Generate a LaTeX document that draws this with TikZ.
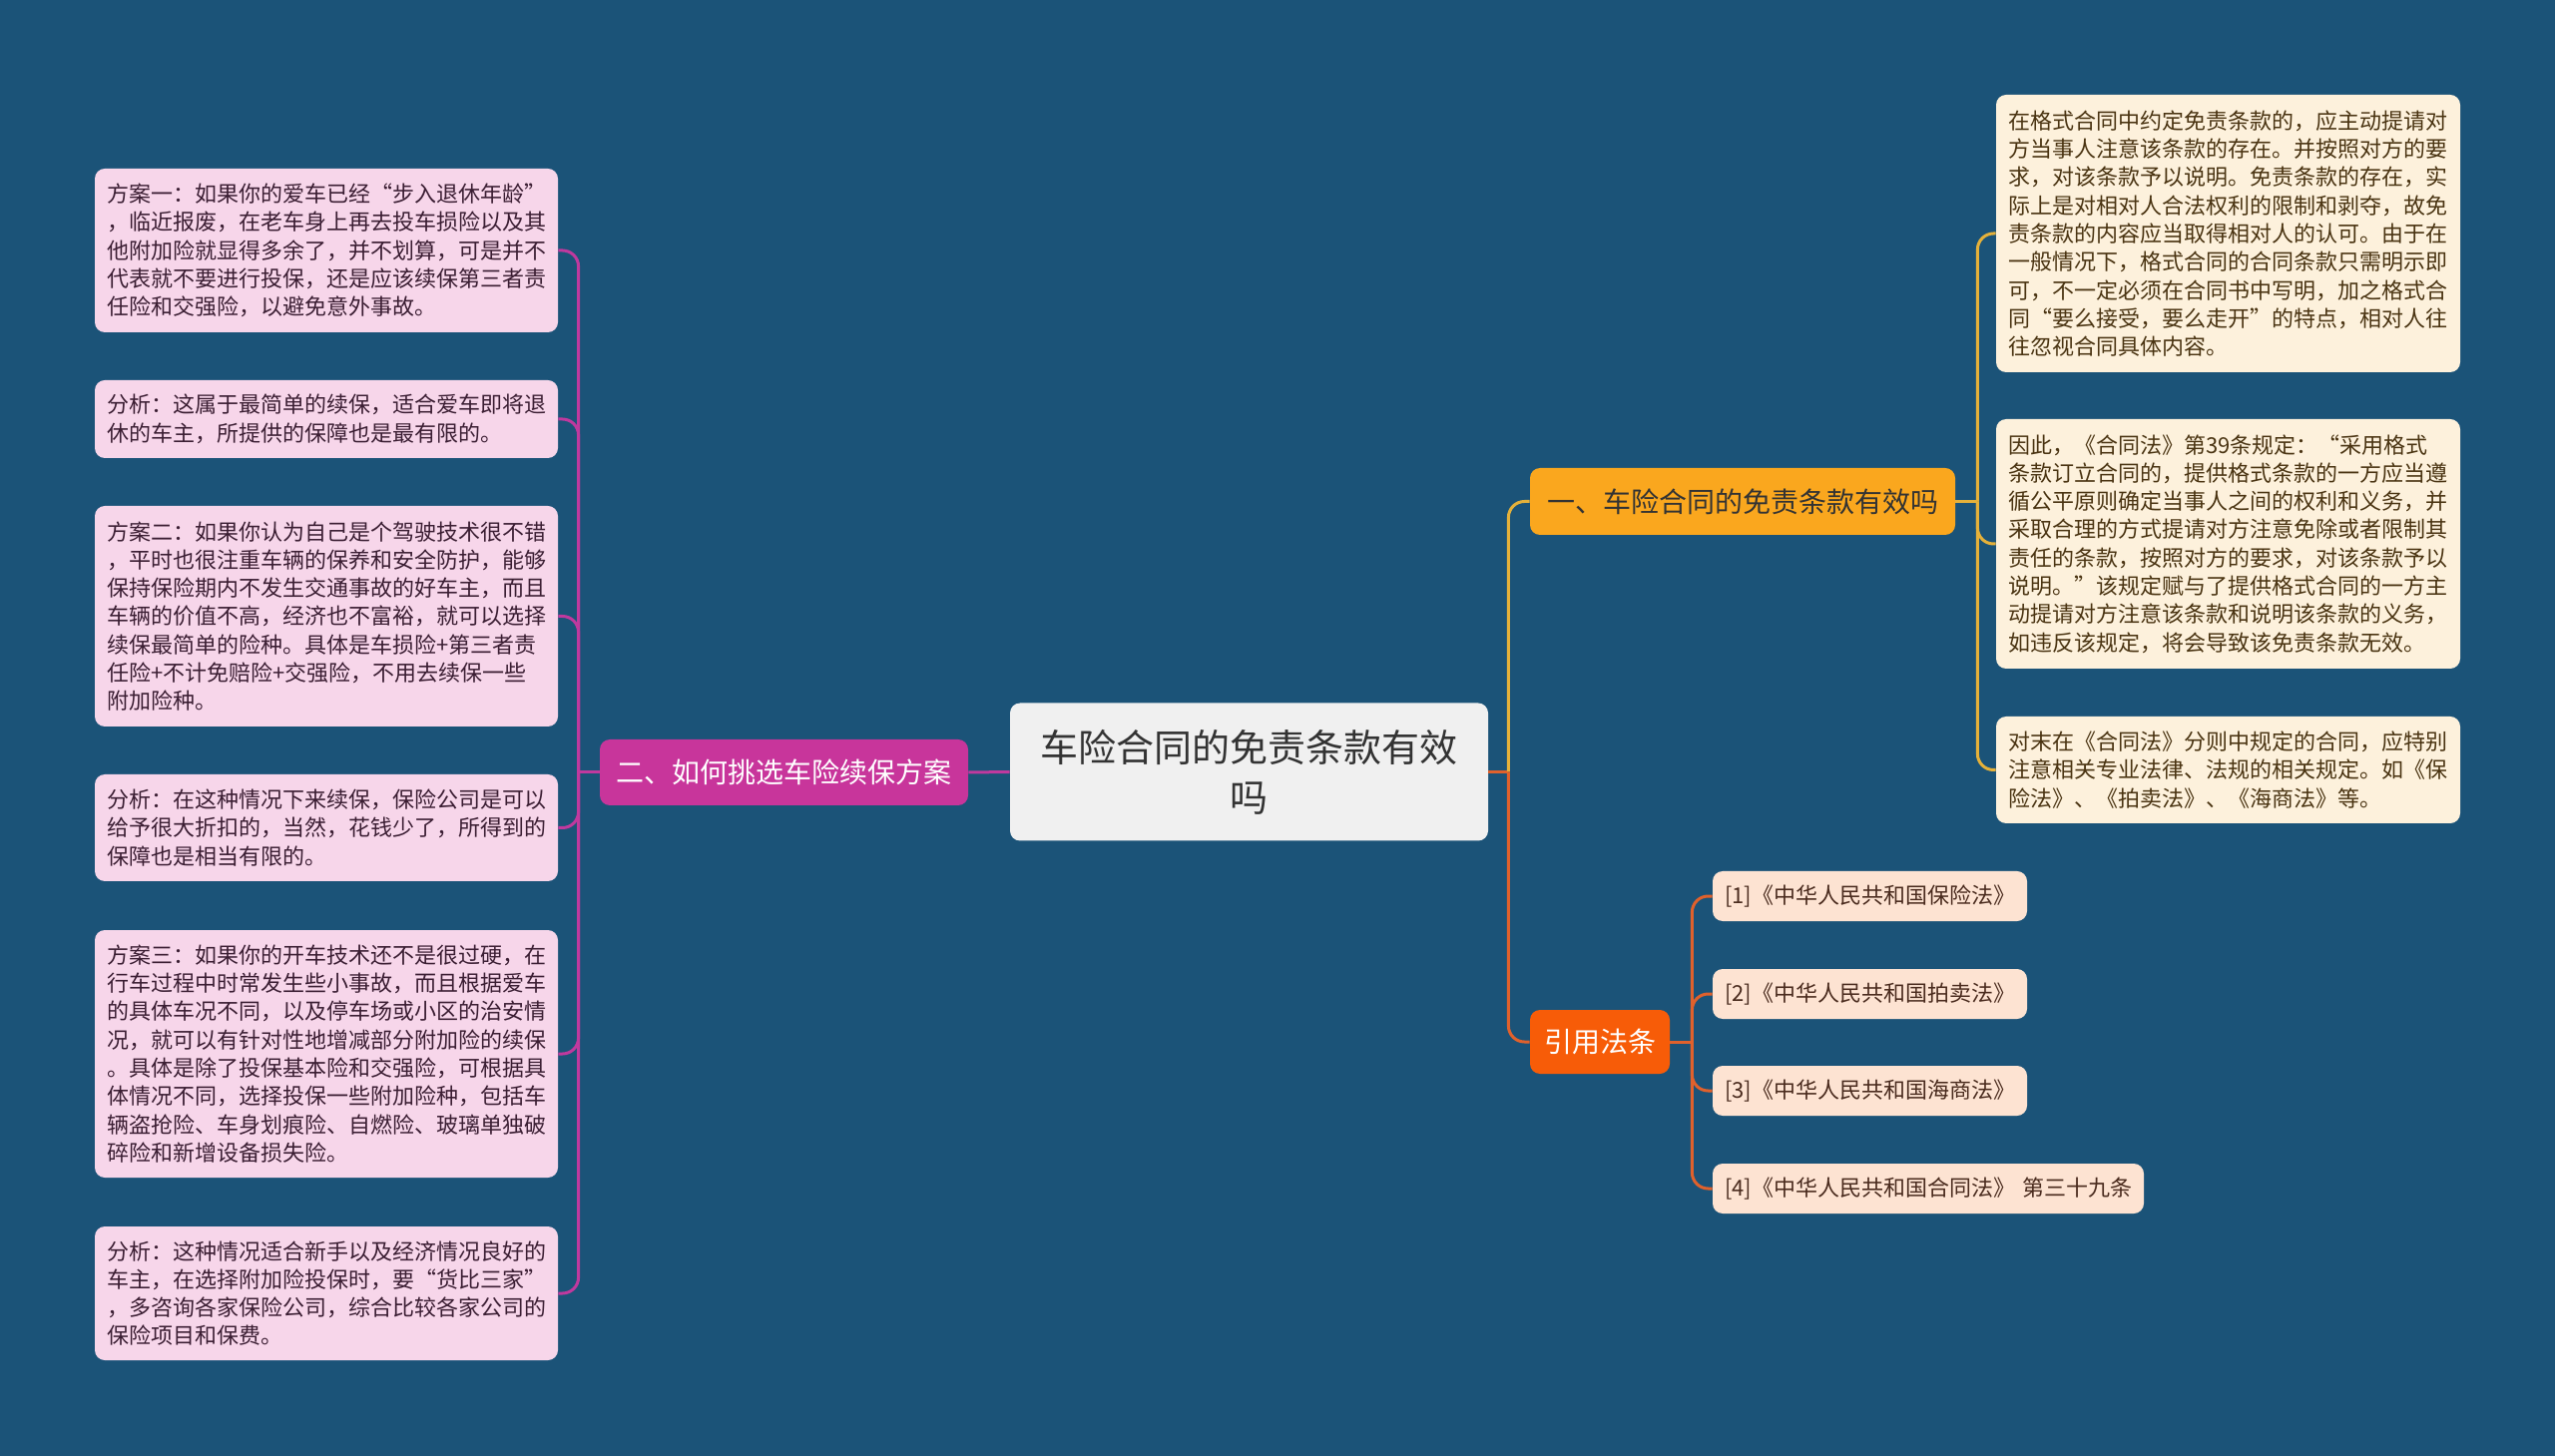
\documentclass[tikz,border=0pt]{standalone}
\usepackage{fontspec}
\setmainfont{Noto Sans CJK SC}
\definecolor{bgc}{HTML}{1B5378}
\definecolor{pinkf}{HTML}{F7D6EA}
\definecolor{pinkt}{HTML}{3B1E33}
\definecolor{creamf}{HTML}{FDF1DC}
\definecolor{creamt}{HTML}{4A3412}
\definecolor{peachf}{HTML}{FDE3D2}
\definecolor{peacht}{HTML}{4A2B1E}
\definecolor{brorange}{HTML}{FAA71E}
\definecolor{brmag}{HTML}{C8359B}
\definecolor{brred}{HTML}{F75C08}
\definecolor{rootf}{HTML}{F0F0F0}
\definecolor{lnmag}{HTML}{C0399E}
\definecolor{lngold}{HTML}{E5B13A}
\definecolor{lnorange}{HTML}{E0612C}
\tikzset{
  box/.style={rounded corners=5pt, inner xsep=6pt, inner ysep=3pt, align=left},
  leafL/.style={box, fill=pinkf, text=pinkt, text width=220pt, font=\fontsize{11}{14.15}\selectfont},
  leafR/.style={box, fill=creamf, text=creamt, text width=220.5pt, font=\fontsize{11}{14.15}\selectfont},
  cite/.style={box, fill=peachf, text=peacht, minimum height=25pt, font=\fontsize{11}{14.15}\selectfont},
  branch/.style={rounded corners=5pt, inner sep=0pt, align=center, font=\fontsize{14}{17}\selectfont},
  conn/.style={line width=1.5pt},
  rc/.style={rounded corners=8pt}
}
\begin{document}
\begin{tikzpicture}[x=0.5pt,y=-0.5pt]
\fill[bgc] (0,0) rectangle (2560,1459);
\useasboundingbox (0,0) rectangle (2560,1459);

% root
\node[rounded corners=5pt, fill=rootf, text=black!80, align=center, minimum width=239.5pt, minimum height=69pt, inner sep=0pt, font=\fontsize{19}{25}\selectfont] (root) at (1251.5,773.5) {车险合同的免责条款有效\\吗};

% branches
\node[branch, fill=brorange, text=black!80, minimum width=213pt, minimum height=33.5pt] (b1) at (1746,502.5) {一、车险合同的免责条款有效吗};
\node[branch, fill=brmag, text=white, minimum width=184.5pt, minimum height=33pt] (b2) at (785.5,774) {二、如何挑选车险续保方案};
\node[branch, fill=brred, text=white, minimum width=70pt, minimum height=32pt] (b3) at (1603,1044) {引用法条};

% left leaves
\node[leafL, minimum height=82pt] (L1) at (327,251) {方案一：如果你的爱车已经“步入退休年龄”\\，临近报废，在老车身上再去投车损险以及其\\他附加险就显得多余了，并不划算，可是并不\\代表就不要进行投保，还是应该续保第三者责\\任险和交强险，以避免意外事故。};
\node[leafL, minimum height=39pt] (L2) at (327,420) {分析：这属于最简单的续保，适合爱车即将退\\休的车主，所提供的保障也是最有限的。};
\node[leafL, minimum height=110.5pt] (L3) at (327,617.5) {方案二：如果你认为自己是个驾驶技术很不错\\，平时也很注重车辆的保养和安全防护，能够\\保持保险期内不发生交通事故的好车主，而且\\车辆的价值不高，经济也不富裕，就可以选择\\续保最简单的险种。具体是车损险+第三者责\\任险+不计免赔险+交强险，不用去续保一些\\附加险种。};
\node[leafL, minimum height=53.5pt] (L4) at (327,829.5) {分析：在这种情况下来续保，保险公司是可以\\给予很大折扣的，当然，花钱少了，所得到的\\保障也是相当有限的。};
\node[leafL, minimum height=124pt] (L5) at (327,1056) {方案三：如果你的开车技术还不是很过硬，在\\行车过程中时常发生些小事故，而且根据爱车\\的具体车况不同，以及停车场或小区的治安情\\况，就可以有针对性地增减部分附加险的续保\\。具体是除了投保基本险和交强险，可根据具\\体情况不同，选择投保一些附加险种，包括车\\辆盗抢险、车身划痕险、自燃险、玻璃单独破\\碎险和新增设备损失险。};
\node[leafL, minimum height=67pt] (L6) at (327,1296) {分析：这种情况适合新手以及经济情况良好的\\车主，在选择附加险投保时，要“货比三家”\\，多咨询各家保险公司，综合比较各家公司的\\保险项目和保费。};

% right leaves
\node[leafR, minimum height=139pt] (R1) at (2232.5,234) {在格式合同中约定免责条款的，应主动提请对\\方当事人注意该条款的存在。并按照对方的要\\求，对该条款予以说明。免责条款的存在，实\\际上是对相对人合法权利的限制和剥夺，故免\\责条款的内容应当取得相对人的认可。由于在\\一般情况下，格式合同的合同条款只需明示即\\可，不一定必须在合同书中写明，加之格式合\\同“要么接受，要么走开”的特点，相对人往\\往忽视合同具体内容。};
\node[leafR, minimum height=125pt] (R2) at (2232.5,545) {因此，《合同法》第39条规定：“采用格式\\条款订立合同的，提供格式条款的一方应当遵\\循公平原则确定当事人之间的权利和义务，并\\采取合理的方式提请对方注意免除或者限制其\\责任的条款，按照对方的要求，对该条款予以\\说明。”该规定赋与了提供格式合同的一方主\\动提请对方注意该条款和说明该条款的义务，\\如违反该规定，将会导致该免责条款无效。};
\node[leafR, minimum height=53.5pt] (R3) at (2232.5,771.5) {对末在《合同法》分则中规定的合同，应特别\\注意相关专业法律、法规的相关规定。如《保\\险法》、《拍卖法》、《海商法》等。};

% citations
\node[cite, text width=145.5pt] (C1) at (1873.5,898) {[1]《中华人民共和国保险法》};
\node[cite, text width=145.5pt] (C2) at (1873.5,996) {[2]《中华人民共和国拍卖法》};
\node[cite, text width=145.5pt] (C3) at (1873.5,1093) {[3]《中华人民共和国海商法》};
\node[cite, text width=204pt] (C4) at (1932,1191) {\mbox{[4]《中华人民共和国合同法》 第三十九条}};

% connectors: root
\coordinate (tR) at ([xshift=10pt]root.east);
\draw[conn, lnorange] (root.east) -- (tR);
\draw[conn, lngold, rc] (tR) |- (b1.west);
\draw[conn, lnorange, rc] (tR) |- (b3.west);
\draw[conn, lnmag] (root.west) -- (b2.east);

% branch 1
\coordinate (t1) at ([xshift=11pt]b1.east);
\draw[conn, lngold] (b1.east) -- (t1);
\foreach \n in {R1,R2,R3} \draw[conn, lngold, rc] (t1) |- (\n.west);

% branch 2
\coordinate (t2) at ([xshift=-10.5pt]b2.west);
\draw[conn, lnmag] (b2.west) -- (t2);
\foreach \n in {L1,L2,L3,L4,L5,L6} \draw[conn, lnmag, rc] (t2) |- (\n.east);

% branch 3
\coordinate (t3) at ([xshift=11pt]b3.east);
\draw[conn, lnorange] (b3.east) -- (t3);
\foreach \n in {C1,C2,C3,C4} \draw[conn, lnorange, rc] (t3) |- (\n.west);
\end{tikzpicture}
\end{document}
